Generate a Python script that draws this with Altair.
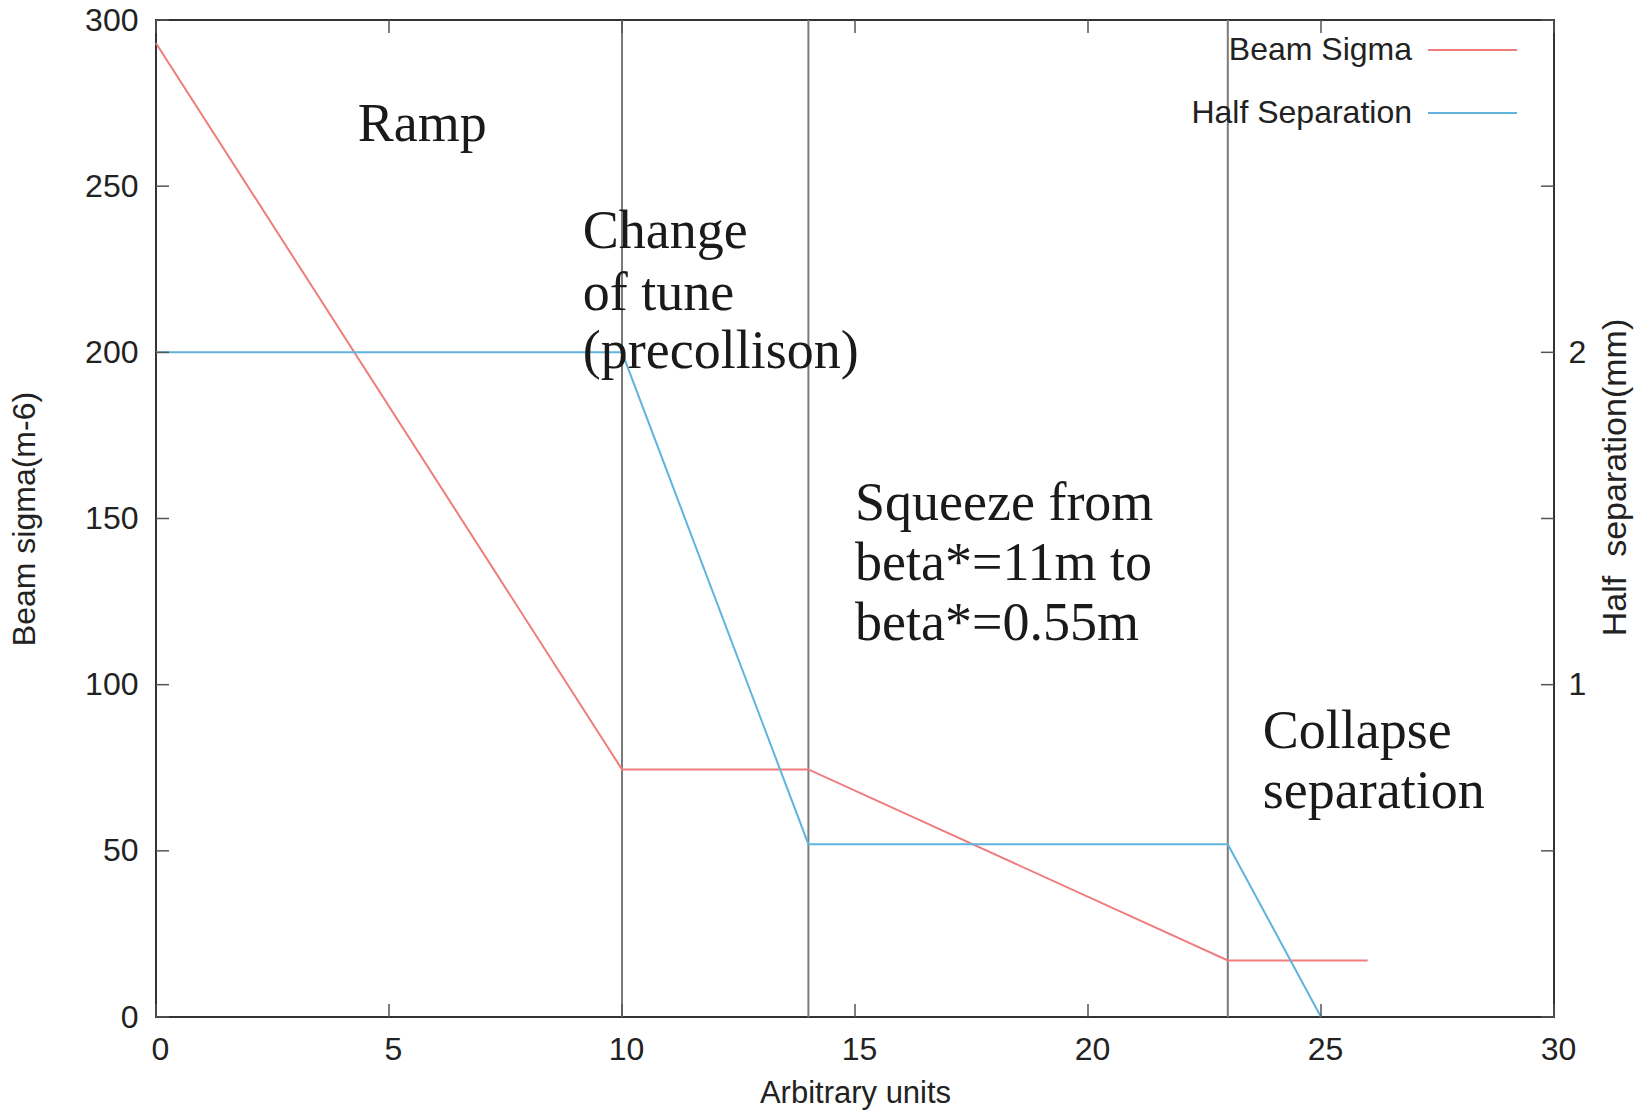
import altair as alt
import pandas as pd

# ---------------- data ----------------
x_sigma = [0, 10, 14, 23, 26]
beam_sigma = [293, 74.5, 74.5, 17, 17]

x_sep = [0, 10, 14, 23, 25]
half_sep = [2.0, 2.0, 0.52, 0.52, 0.0]

phase_bounds = [10, 14, 23]

ann_text = ["Ramp", "Change", "of tune", "(precollison)",
            "Squeeze from", "beta*=11m to", "beta*=0.55m",
            "Collapse", "separation"]
ann_x = [4.33, 9.16, 9.16, 9.16, 15.0, 15.0, 15.0, 23.75, 23.75]
ann_y = [263.5, 231.4, 212.8, 195.2, 149.6, 131.5, 113.3, 80.8, 62.8]

x_ticks = [0, 5, 10, 15, 20, 25, 30]
y_ticks = [0, 50, 100, 150, 200, 250, 300]
right_label_values = [1, 2]

legend_labels = ["Beam Sigma", "Half Separation"]
legend_colors = ["#F07C7C", "#5FB4DE"]

# ---------------- layout ----------------
W, H = 1398, 997
SANS = "Liberation Sans"
SERIF = "Liberation Serif"
TXT = "#222222"

sigma_df = pd.DataFrame({"x": x_sigma, "sigma": beam_sigma})
sep_df = pd.DataFrame({"x": x_sep, "sep": half_sep})
vline_df = pd.DataFrame({"x": phase_bounds})
ann_df = pd.DataFrame({"text": ann_text, "x": ann_x, "y": ann_y})
xt_df = pd.DataFrame({"x": x_ticks})
yt_df = pd.DataFrame({"y": y_ticks})
leg_df = pd.DataFrame({"label": legend_labels, "color": legend_colors,
                       "rank": list(range(len(legend_labels)))})

x_scale = alt.Scale(domain=[0, 30], nice=False, zero=False)
yl_scale = alt.Scale(domain=[0, 300], nice=False, zero=False)
yr_scale = alt.Scale(domain=[0, 3], nice=False, zero=False)

x_axis = alt.Axis(values=x_ticks, tickSize=0, domain=False, grid=False,
                  labelFont=SANS, labelFontSize=32, labelColor=TXT, labelPadding=17,
                  labelFlush=False, labelOffset=4,
                  title="Arbitrary units", titleFont=SANS, titleFontSize=31,
                  titleFontWeight="normal", titleColor=TXT, titlePadding=13)


def X(field="x"):
    return alt.X(f"{field}:Q", scale=x_scale, axis=x_axis)


def YL(field, axis=None):
    return alt.Y(f"{field}:Q", scale=yl_scale, axis=axis)


left_axis = alt.Axis(values=y_ticks, tickSize=0, domain=False, grid=False, orient="left",
                     labelFont=SANS, labelFontSize=32, labelColor=TXT, labelPadding=18,
                     labelFlush=False,
                     title="Beam sigma(m-6)", titleFont=SANS, titleFontSize=32,
                     titleFontWeight="normal", titleColor=TXT, titlePadding=43)

right_axis = alt.Axis(values=right_label_values, tickSize=0, domain=False, grid=False,
                      orient="right", format="d", labelFlush=False,
                      labelFont=SANS, labelFontSize=32, labelColor=TXT, labelPadding=14,
                      title="Half\u00a0\u00a0separation(mm)", titleFont=SANS, titleFontSize=34,
                      titleFontWeight="normal", titleColor=TXT, titlePadding=13,
                      titleAngle=270, titleBaseline="top", titleY=457)

vlines = alt.Chart(vline_df).mark_rule(color="#7a7a7a", strokeWidth=2).encode(
    x=X(), y=alt.value(0), y2=alt.value(H))

sigma_line = alt.Chart(sigma_df).mark_line(color=legend_colors[0], strokeWidth=2).encode(
    x=X(), y=YL("sigma", left_axis))

sep_line = alt.Chart(sep_df).mark_line(color=legend_colors[1], strokeWidth=2).encode(
    x=X(), y=alt.Y("sep:Q", scale=yr_scale, axis=right_axis))

TICK = 13
TCOL = "#555555"
ticks_left = alt.Chart(yt_df).mark_rule(color=TCOL, strokeWidth=1.5).encode(
    y=YL("y"), x=alt.value(0), x2=alt.value(TICK))
ticks_right = alt.Chart(yt_df).mark_rule(color=TCOL, strokeWidth=1.5).encode(
    y=YL("y"), x=alt.value(W - TICK), x2=alt.value(W))
ticks_bottom = alt.Chart(xt_df).mark_rule(color=TCOL, strokeWidth=1.5).encode(
    x=X(), y=alt.value(H - TICK), y2=alt.value(H))
ticks_top = alt.Chart(xt_df).mark_rule(color=TCOL, strokeWidth=1.5).encode(
    x=X(), y=alt.value(0), y2=alt.value(TICK))

annotations = alt.Chart(ann_df).mark_text(
    font=SERIF, fontSize=54, align="left", baseline="alphabetic", color="#1a1a1a"
).encode(x=X(), y=YL("y"), text="text:N")

leg_y = alt.Y("rank:Q", scale=alt.Scale(domain=[0, 1], range=[30, 93]), axis=None)
leg_text = alt.Chart(leg_df).mark_text(
    font=SANS, fontSize=32, align="right", baseline="middle", color=TXT
).encode(x=alt.value(1256), y=leg_y, text="label:N")
leg_lines = alt.Chart(leg_df).mark_rule(strokeWidth=2).encode(
    x=alt.value(1272), x2=alt.value(1361), y=leg_y,
    color=alt.Color("color:N", scale=None))

chart = alt.layer(
    vlines, sigma_line, sep_line, ticks_left, ticks_right, ticks_bottom, ticks_top,
    annotations, leg_text, leg_lines
).resolve_scale(y="independent").properties(
    width=W, height=H,
    autosize=alt.AutoSizeParams(type="none"),
    padding={"left": 156, "top": 20, "right": 96, "bottom": 95},
    background="white",
).configure_view(stroke="#333333", strokeWidth=2)

chart.save("out.html", embed_options={"renderer": "svg", "actions": False})
